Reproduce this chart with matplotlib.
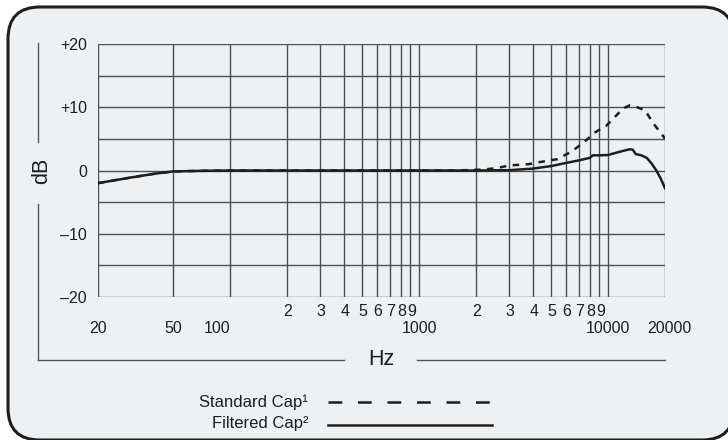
import numpy as np
import matplotlib
matplotlib.use("Agg")
import matplotlib.pyplot as plt
from matplotlib.patches import FancyBboxPatch
from matplotlib.lines import Line2D

plt.rcParams['font.family'] = ['Liberation Sans', 'DejaVu Sans']

# frequency response (Hz, dB)
filtered_freq = [20, 25, 30, 40, 50, 70, 100, 200, 500, 1000, 2000, 3000, 4000,
                 5000, 6000, 7000, 8000, 8300, 9000, 10000, 11000, 12000, 13000,
                 13500, 14000, 15000, 16000, 17000, 18000, 19000, 20000]
filtered_db = [-2.0, -1.5, -1.1, -0.5, -0.15, -0.05, 0, 0, 0, 0, 0, 0.05, 0.3,
               0.7, 1.2, 1.6, 2.0, 2.4, 2.4, 2.45, 2.8, 3.1, 3.35,
               3.3, 2.6, 2.4, 2.0, 1.1, 0.0, -1.3, -2.8]

standard_freq = [20, 25, 30, 40, 50, 70, 100, 200, 500, 1000, 1500, 2000, 2200,
                 2600, 3000, 3800, 4500, 5400, 6400, 7400, 8500, 9800, 11300,
                 12000, 13000, 14000, 15700, 17300, 19600, 20000]
standard_db = [-2.0, -1.5, -1.1, -0.5, -0.15, -0.05, 0, 0, 0, 0, 0, 0.1, 0.15,
               0.4, 0.8, 1.0, 1.4, 1.8, 3.0, 4.4, 6.0, 7.1, 9.0,
               9.8, 10.3, 10.1, 9.5, 7.5, 5.4, 5.0]

y_ticks = [20, 10, 0, -10, -20]
y_labels = ['+20', '+10', '0', '\u201310', '\u201320']
grid_freqs = [20, 50, 100, 200, 300, 400, 500, 600, 700, 800, 900, 1000,
              2000, 3000, 4000, 5000, 6000, 7000, 8000, 9000, 10000, 20000]
minor_labels = ['2', '3', '4', '5', '6', '7', '8', '9']
minor_hundreds = [200, 300, 400, 500, 600, 700, 800, 900]
minor_thousands = [2000, 3000, 4000, 5000, 6000, 7000, 8000, 9000]
major_freqs = [20, 50, 100, 1000, 10000, 20000]
major_labels = ['20', '50', '100', '1000', '10000', '20000']

W, H = 728, 440
fig = plt.figure(figsize=(W / 100, H / 100), dpi=100, facecolor='white')


def fx(x):
    return x / W


def fy(y):
    return 1 - y / H


# rounded frame (runs slightly off the right and bottom edges)
box = FancyBboxPatch((0.08, 0.0), 7.26, 4.33,
                     boxstyle="round,pad=0,rounding_size=0.32",
                     transform=fig.dpi_scale_trans, facecolor='#eff0f2',
                     edgecolor='#1e1e1e', linewidth=2.2, zorder=-5)
fig.patches.append(box)

ax = fig.add_axes([fx(98), fy(297), (665 - 98) / W, (297 - 44) / H])
ax.set_zorder(2)
ax.set_facecolor('none')
ax.set_xscale('log')
ax.set_xlim(20, 20000)
ax.set_ylim(-20, 20)

grid_col = '#505050'
for f in grid_freqs:
    ax.axvline(f, color=grid_col, lw=1.0, zorder=1)
for d in range(-20, 21, 5):
    ax.axhline(d, color=grid_col, lw=1.0, zorder=1)
for s in ax.spines.values():
    s.set_visible(False)

ax.plot(standard_freq, standard_db, color='#1e1e1e', lw=1.8,
        dashes=(2.6, 2.6), zorder=3)
ax.plot(filtered_freq, filtered_db, color='#1e1e1e', lw=1.8, zorder=4)

ax.set_yticks(y_ticks)
ax.set_yticklabels(y_labels, fontsize=11.5, color='#1e1e1e')
ax.tick_params(axis='y', length=0, pad=8)
ax.set_xticks([])
ax.xaxis.set_minor_locator(matplotlib.ticker.NullLocator())

xt = ax.get_xaxis_transform()
for f, lab in zip(minor_hundreds + minor_thousands, minor_labels * 2):
    ax.annotate(lab, xy=(f, 0), xycoords=xt, xytext=(1, -14),
                textcoords='offset pixels', ha='center', va='center',
                fontsize=11.5, color='#1e1e1e')
for f, lab in zip(major_freqs, major_labels):
    dx = -13 if lab == '100' else (4 if lab == '20000' else 0)
    ax.annotate(lab, xy=(f, 0), xycoords=xt, xytext=(dx, -31),
                textcoords='offset pixels', ha='center', va='center',
                fontsize=11.5, color='#1e1e1e')

# axis titles with their rule lines
frame_col = '#555555'
fig.add_artist(Line2D([fx(38), fx(38)], [fy(43), fy(142)], color=frame_col, lw=1))
fig.add_artist(Line2D([fx(38), fx(38)], [fy(204), fy(360)], color=frame_col, lw=1))
fig.add_artist(Line2D([fx(38), fx(344)], [fy(360), fy(360)], color=frame_col, lw=1))
fig.add_artist(Line2D([fx(417), fx(665)], [fy(360), fy(360)], color=frame_col, lw=1))
fig.text(fx(42), fy(171), 'dB', rotation=90, ha='center', va='center',
         fontsize=15.5, color='#1e1e1e')
fig.text(fx(381), fy(359), 'Hz', ha='center', va='center',
         fontsize=15.5, color='#1e1e1e')

# legend
fig.text(fx(308), fy(402), 'Standard Cap\u00b9', ha='right', va='center',
         fontsize=12, color='#1e1e1e')
fig.text(fx(308), fy(423), 'Filtered Cap\u00b2', ha='right', va='center',
         fontsize=12, color='#1e1e1e')
fig.add_artist(Line2D([fx(328), fx(492)], [fy(402), fy(402)], color='#1e1e1e',
                      lw=1.8, dashes=(5.5, 6.3)))
fig.add_artist(Line2D([fx(328), fx(492)], [fy(425), fy(425)], color='#1e1e1e',
                      lw=1.8))

fig.savefig('out.png', dpi=100, facecolor='white')
